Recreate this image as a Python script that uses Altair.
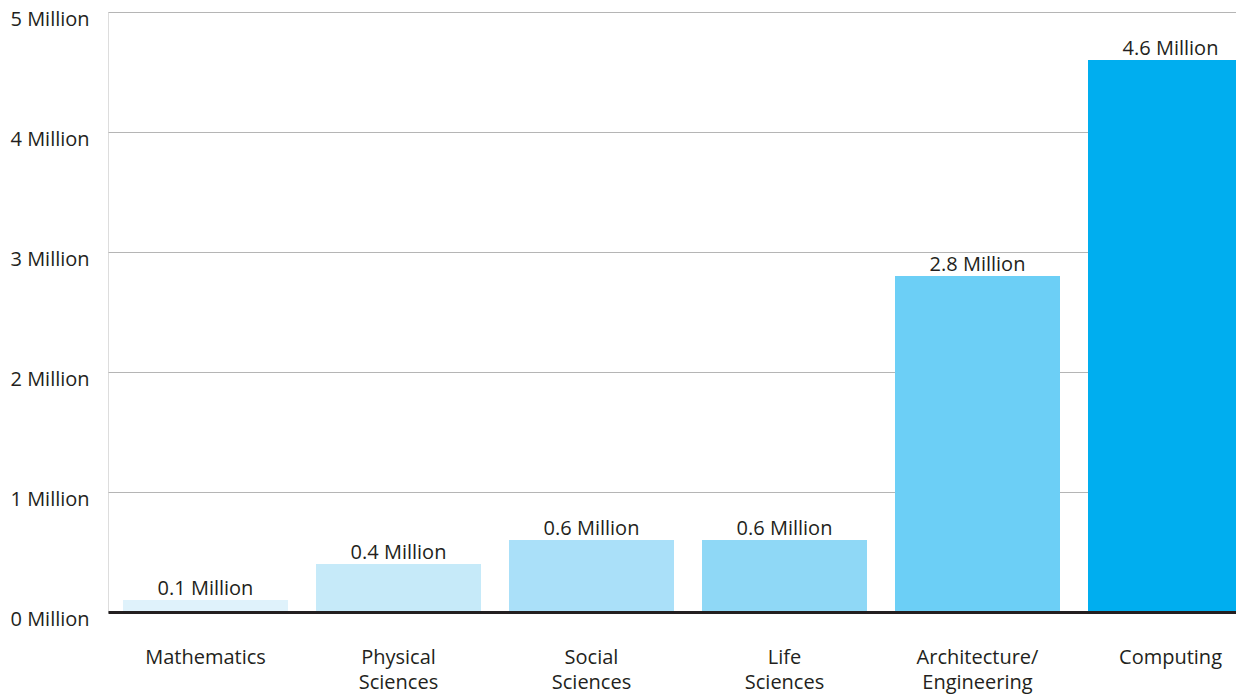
import altair as alt
import pandas as pd

categories = ["Mathematics", "Physical Sciences", "Social Sciences", "Life Sciences",
              "Architecture/Engineering", "Computing"]
values = [0.1, 0.4, 0.6, 0.6, 2.8, 4.6]
bar_labels = ["0.1 Million", "0.4 Million", "0.6 Million", "0.6 Million", "2.8 Million", "4.6 Million"]
colors = ["#dff2fb", "#c6eaf9", "#aae0f9", "#8fd8f6", "#6ccff6", "#00aeef"]
y_ticks = [0, 1, 2, 3, 4, 5]

df = pd.DataFrame({"category": categories, "value": values, "label": bar_labels})

FONT = "Open Sans"
TXT = "#231f20"
FS = 20

x_enc = alt.X(
    "category:N",
    sort=categories,
    scale=alt.Scale(range=[0, 1160], paddingInner=0.1451, paddingOuter=0.0777),
    axis=alt.Axis(
        title=None,
        labelAngle=0,
        labelExpr="split(replace(datum.label, '/', '/ '), ' ')",
        labelBaseline="top",
        labelPadding=35,
        labelLineHeight=25,
        labelFont=FONT,
        labelFontSize=FS,
        labelColor=TXT,
        ticks=False,
        domainColor="#231f20",
        domainWidth=3,
        grid=False,
        zindex=1,
    ),
)

y_enc = alt.Y(
    "value:Q",
    scale=alt.Scale(domain=[0, 5], nice=False),
    axis=alt.Axis(
        title=None,
        values=y_ticks,
        labelExpr="datum.value + ' Million'",
        labelAlign="left",
        labelBaseline="alphabetic",
        labelPadding=98,
        labelOffset=13.5,
        labelFont=FONT,
        labelFontSize=FS,
        labelColor=TXT,
        ticks=False,
        domain=False,
        grid=True,
        gridColor="#b5b5b5",
        gridWidth=1,
    ),
)

bars = alt.Chart(df).mark_bar().encode(
    x=x_enc,
    y=y_enc,
    color=alt.Color("category:N", scale=alt.Scale(domain=categories, range=colors), legend=None),
)

texts = alt.Chart(df).mark_text(
    baseline="alphabetic", dy=-5.5, font=FONT, fontSize=FS, color=TXT
).encode(
    x=alt.X("category:N", sort=categories),
    y=alt.Y("value:Q"),
    text="label:N",
)

chart = (
    alt.layer(bars, texts)
    .properties(
        width=1128,
        height=600,
        autosize=alt.AutoSizeParams(type="none"),
        padding={"left": 100, "top": 4, "right": 0, "bottom": 86},
    )
    .configure_view(stroke=None)
    .configure(background="white")
)

chart.save("out.html", embed_options={"renderer": "svg", "actions": False})
